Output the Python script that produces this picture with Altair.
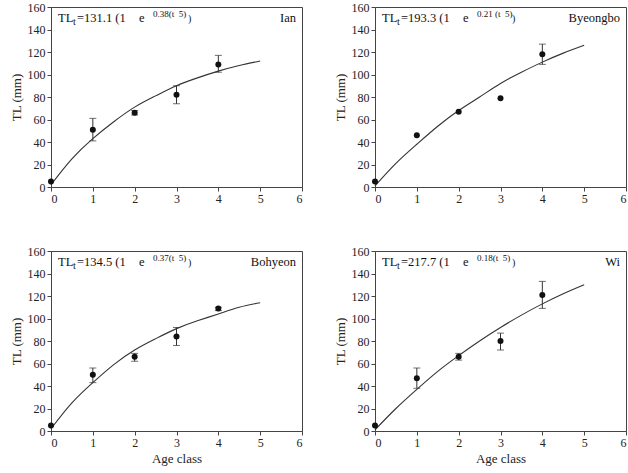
import altair as alt
import pandas as pd

# ---------------- data ----------------
ages = [0, 1, 2, 3, 4]
curve_t = [0, 0.5, 1, 1.5, 2, 2.5, 3, 3.5, 4, 4.5, 5]

sites = ["Ian", "Byeongbo", "Bohyeon", "Wi"]
NB = "\u00a0"
equations = [("131.1", "0.38(t" + NB * 2 + "5)"), ("193.3", "0.21" + NB + "(t" + NB * 2 + "5)"),
             ("134.5", "0.37(t" + NB * 2 + "5)"), ("217.7", "0.18(t" + NB * 2 + "5)")]

ian_mean = [5, 51, 66, 82, 109]
ian_lo = [None, 41, 64, 74, 102]
ian_hi = [None, 61, 68, 90, 117]
ian_curve = [2, 25, 43, 58, 71, 81, 90, 97, 103, 108, 112]

byeongbo_mean = [5, 46, 67, 79, 118]
byeongbo_lo = [None, None, None, None, 109]
byeongbo_hi = [None, None, None, None, 127]
byeongbo_curve = [1, 21, 38, 54, 68, 80, 92, 102, 111, 119, 126]

bohyeon_mean = [5, 50, 66, 84, 109]
bohyeon_lo = [None, 43, 62, 76, 107]
bohyeon_hi = [None, 56, 69, 92, 110]
bohyeon_curve = [2, 25, 43, 59, 72, 82, 91, 98, 104, 110, 114]

wi_mean = [5, 47, 66, 80, 121]
wi_lo = [None, 38, 63, 72, 109]
wi_hi = [None, 56, 69, 87, 133]
wi_curve = [1, 20, 37, 53, 67, 80, 92, 103, 113, 122, 130]

x_ticks = [0, 1, 2, 3, 4, 5, 6]
y_ticks = [0, 20, 40, 60, 80, 100, 120, 140, 160]

FONT = "Liberation Serif"
W, H = 251, 180
INK = "#111111"


def panel(site, eq, mean, lo, hi, curve, xtitle):
    pts = pd.DataFrame({"age": ages, "tl": mean})
    bars = pd.DataFrame({"age": ages, "lo": lo, "hi": hi}).dropna()
    cur = pd.DataFrame({"t": curve_t, "tl": curve})

    xs = alt.Scale(domain=[0, 6], nice=False)
    ys = alt.Scale(domain=[0, 160], nice=False)
    xax = alt.Axis(values=x_ticks, title=xtitle if xtitle else None, format="d",
                   labelOverlap=False)
    yax = alt.Axis(values=y_ticks, title="TL (mm)", format="d", labelOverlap=False)

    def X(f):
        return alt.X(f, scale=xs, axis=xax)

    def Y(f):
        return alt.Y(f, scale=ys, axis=yax)

    line = alt.Chart(cur).mark_line(color="#333333", strokeWidth=1.1,
                                    interpolate="natural").encode(
        x=X("t:Q"), y=Y("tl:Q"))
    rule = alt.Chart(bars).mark_rule(color="#333333", strokeWidth=1).encode(
        x=X("age:Q"), y=Y("lo:Q"), y2="hi:Q")
    cap_lo = alt.Chart(bars).mark_tick(color="#333333", orient="horizontal",
                                       size=7, thickness=1).encode(x=X("age:Q"), y=Y("lo:Q"))
    cap_hi = alt.Chart(bars).mark_tick(color="#333333", orient="horizontal",
                                       size=7, thickness=1).encode(x=X("age:Q"), y=Y("hi:Q"))
    dots = alt.Chart(pts).mark_circle(color=INK, size=36, opacity=1).encode(
        x=X("age:Q"), y=Y("tl:Q"))

    one = pd.DataFrame({"k": [0]})

    def txt(s, x, y, size=12.5, align="left"):
        return alt.Chart(one).mark_text(text=s, font=FONT, fontSize=size, color=INK,
                                        align=align, baseline="alphabetic").encode(
            x=alt.value(x), y=alt.value(y))

    anno = [
        txt("TL", 7, 15),
        txt("t", 22, 18, size=10),
        txt("=" + eq[0] + " (1", 26, 15),
        txt("e", 88, 15),
        txt(eq[1], 102, 10, size=9),
        txt(")", 137, 15, size=10),
        txt(site, W - 6, 15, align="right"),
    ]
    return alt.layer(line, rule, cap_lo, cap_hi, dots, *anno).properties(width=W, height=H)


p1 = panel(sites[0], equations[0], ian_mean, ian_lo, ian_hi, ian_curve, None)
p2 = panel(sites[1], equations[1], byeongbo_mean, byeongbo_lo, byeongbo_hi, byeongbo_curve, None)
p3 = panel(sites[2], equations[2], bohyeon_mean, bohyeon_lo, bohyeon_hi, bohyeon_curve, "Age class")
p4 = panel(sites[3], equations[3], wi_mean, wi_lo, wi_hi, wi_curve, "Age class")

chart = alt.vconcat(
    alt.hconcat(p1, p2, spacing=30),
    alt.hconcat(p3, p4, spacing=30),
    spacing=39,
).properties(
    padding={"left": 9, "top": 0, "right": 0, "bottom": 0},
    background="white",
).configure_view(
    stroke="#444444", strokeWidth=1
).configure_axis(
    labelFont=FONT, labelFontSize=12, labelColor="#222222", labelOverlap=False,
    titleFont=FONT, titleFontSize=13, titleFontWeight="normal", titleColor="#222222",
    domainColor="#444444", tickColor="#444444", tickSize=4, grid=False,
    labelPadding=2, titlePadding=4,
)

chart.save("out.html", embed_options={"renderer": "svg", "actions": False})
